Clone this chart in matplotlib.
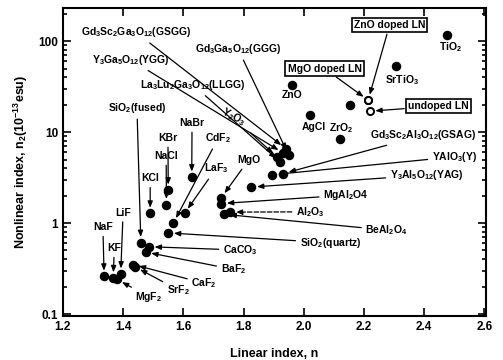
import numpy as np
import matplotlib.pyplot as plt

plt.rcParams['font.family'] = ['Liberation Sans', 'DejaVu Sans']
plt.rcParams['mathtext.default'] = 'regular'

# crystals: linear index n and nonlinear index n2 (1e-13 esu)
materials = ['NaF', 'KF', 'LiF', 'MgF2', 'SrF2', 'CaF2', 'BaF2', 'CaCO3',
             'SiO2(fused)', 'SiO2(quartz)', 'KCl', 'NaCl', 'KBr', 'NaBr',
             'CdF2', 'LaF3', 'MgO', 'MgAl2O4', 'Al2O3', 'BeAl2O4', 'YAG',
             'YAlO3', 'GSAG', 'Y2O3', 'LLGG', 'YGG', 'GSGG', 'GGG', 'ZnO',
             'AgCl', 'ZrO2', 'other', 'MgO:LN', 'ZnO:LN', 'LN', 'SrTiO3', 'TiO2']
lin_index = [1.337, 1.367, 1.392, 1.380, 1.440, 1.434, 1.475, 1.486,
             1.459, 1.550, 1.490, 1.544, 1.550, 1.628,
             1.567, 1.604, 1.726, 1.726, 1.756, 1.735, 1.826,
             1.895, 1.932, 1.912, 1.922, 1.932, 1.940, 1.950, 1.961,
             2.022, 2.120, 2.153, 2.214, 2.214, 2.219, 2.305, 2.477]
nonlin_index = [0.26, 0.25, 0.275, 0.24, 0.33, 0.35, 0.48, 0.55,
                0.61, 0.78, 1.28, 1.6, 2.3, 3.2,
                1.0, 1.28, 1.9, 1.64, 1.32, 1.25, 2.49,
                3.4, 3.5, 5.3, 4.7, 5.9, 6.6, 5.6, 32.8,
                15.4, 8.5, 19.8, 22.5, 22.5, 17.0, 53, 116]
lithium_niobate = ['MgO:LN', 'ZnO:LN', 'LN']

labels = {
    'NaF': 'NaF', 'KF': 'KF', 'LiF': 'LiF', 'MgF2': r'MgF$_2$',
    'SrF2': r'SrF$_2$', 'CaF2': r'CaF$_2$', 'BaF2': r'BaF$_2$',
    'CaCO3': r'CaCO$_3$', 'SiO2(fused)': r'SiO$_2$(fused)',
    'SiO2(quartz)': r'SiO$_2$(quartz)', 'KCl': 'KCl', 'NaCl': 'NaCl',
    'KBr': 'KBr', 'NaBr': 'NaBr', 'CdF2': r'CdF$_2$', 'LaF3': r'LaF$_3$',
    'MgO': 'MgO', 'MgAl2O4': r'MgAl$_2$O4', 'Al2O3': r'Al$_2$O$_3$',
    'BeAl2O4': r'BeAl$_2$O$_4$', 'YAG': r'Y$_3$Al$_5$O$_{12}$(YAG)',
    'YAlO3': r'YAlO$_3$(Y)', 'GSAG': r'Gd$_3$Sc$_2$Al$_3$O$_{12}$(GSAG)',
    'Y2O3': r'Y$_2$O$_3$', 'LLGG': r'La$_3$Lu$_2$Ga$_3$O$_{12}$(LLGG)',
    'YGG': r'Y$_3$Ga$_5$O$_{12}$(YGG)', 'GSGG': r'Gd$_3$Sc$_2$Ga$_3$O$_{12}$(GSGG)',
    'GGG': r'Gd$_3$Ga$_5$O$_{12}$(GGG)', 'MgO:LN': 'MgO doped LN',
    'ZnO:LN': 'ZnO doped LN', 'LN': 'undoped LN',
}
plain_labels = {'ZnO': 'ZnO', 'AgCl': 'AgCl', 'ZrO2': r'ZrO$_2$',
                'SrTiO3': r'SrTiO$_3$', 'TiO2': r'TiO$_2$'}

# where the label text sits (data coords)
label_pos = {
    'GSGG': (1.443, 125), 'YGG': (1.426, 62), 'GGG': (1.782, 82),
    'LLGG': (1.633, 33), 'Y2O3': (1.766, 14.6), 'SiO2(fused)': (1.446, 18.4),
    'NaBr': (1.629, 12.6), 'KBr': (1.549, 8.6), 'NaCl': (1.543, 5.45),
    'CdF2': (1.716, 8.6), 'LaF3': (1.709, 4.0), 'MgO': (1.816, 4.9),
    'KCl': (1.49, 3.1), 'LiF': (1.40, 1.3), 'NaF': (1.333, 0.9),
    'KF': (1.371, 0.53), 'MgF2': (1.486, 0.155), 'SrF2': (1.583, 0.184),
    'CaF2': (1.669, 0.218), 'BaF2': (1.766, 0.31), 'CaCO3': (1.789, 0.505),
    'SiO2(quartz)': (2.089, 0.607), 'BeAl2O4': (2.275, 0.838),
    'Al2O3': (2.022, 1.33), 'MgAl2O4': (2.14, 2.03), 'YAG': (2.408, 3.37),
    'YAlO3': (2.50, 5.35), 'GSAG': (2.398, 9.27),
    'MgO:LN': (2.069, 50), 'ZnO:LN': (2.285, 150), 'LN': (2.448, 19.3),
    'ZnO': (1.962, 25.5), 'AgCl': (2.032, 11.4), 'ZrO2': (2.125, 11.1),
    'SrTiO3': (2.325, 37.2), 'TiO2': (2.488, 86),
}

fig = plt.figure(figsize=(5.03, 3.6), dpi=100)
ax = fig.add_axes([0.125, 0.122, 0.841, 0.855])

filled = [m not in lithium_niobate for m in materials]
x = np.array(lin_index)
y = np.array(nonlin_index)
f = np.array(filled)
ax.scatter(x[f], y[f], s=34, c='black', zorder=3)
ax.scatter(x[~f], y[~f], s=26, facecolors='white', edgecolors='black',
           linewidths=1.4, zorder=3)

fs = 7.5
for m, n, n2 in zip(materials, lin_index, nonlin_index):
    if m in labels:
        tx, ty = label_pos[m]
        props = dict(arrowstyle='-|>,head_length=0.5,head_width=0.2',
                     color='black', lw=0.9, shrinkA=1, shrinkB=4)
        if m == 'Al2O3':
            props['linestyle'] = '--'
        box = None
        if m in lithium_niobate:
            box = dict(boxstyle='square,pad=0.2', fc='white', ec='black', lw=1.2)
        rot = -28 if m == 'Y2O3' else 0
        ax.annotate(labels[m], xy=(n, n2), xytext=(tx, ty), fontsize=fs,
                    fontweight='bold', ha='center', va='center', rotation=rot,
                    bbox=box, arrowprops=props, zorder=2)
    elif m in plain_labels:
        tx, ty = label_pos[m]
        ax.text(tx, ty, plain_labels[m], fontsize=fs, fontweight='bold',
                ha='center', va='center')

ax.set_yscale('log')
ax.set_xlim(1.2, 2.605)
ax.set_ylim(0.095, 230)
ax.set_xticks(np.arange(1.2, 2.61, 0.2))
ax.set_xticklabels(['%.1f' % v for v in np.arange(1.2, 2.61, 0.2)])
ax.set_yticks([0.1, 1, 10, 100])
ax.set_yticklabels(['0.1', '1', '10', '100'])
ax.tick_params(which='both', direction='in', top=True, right=True,
               labelsize=8.5, width=1.2)
ax.tick_params(which='major', length=6)
ax.tick_params(which='minor', length=3)
for lab in ax.get_xticklabels() + ax.get_yticklabels():
    lab.set_fontweight('bold')
for sp in ax.spines.values():
    sp.set_linewidth(1.5)

ax.set_xlabel('Linear index, n', fontsize=9, fontweight='bold', labelpad=11)
ax.set_ylabel(r'Nonlinear index, n$_2$(10$^{-13}$esu)', fontsize=9,
              fontweight='bold', labelpad=6)

fig.savefig('out.png', dpi=100)
